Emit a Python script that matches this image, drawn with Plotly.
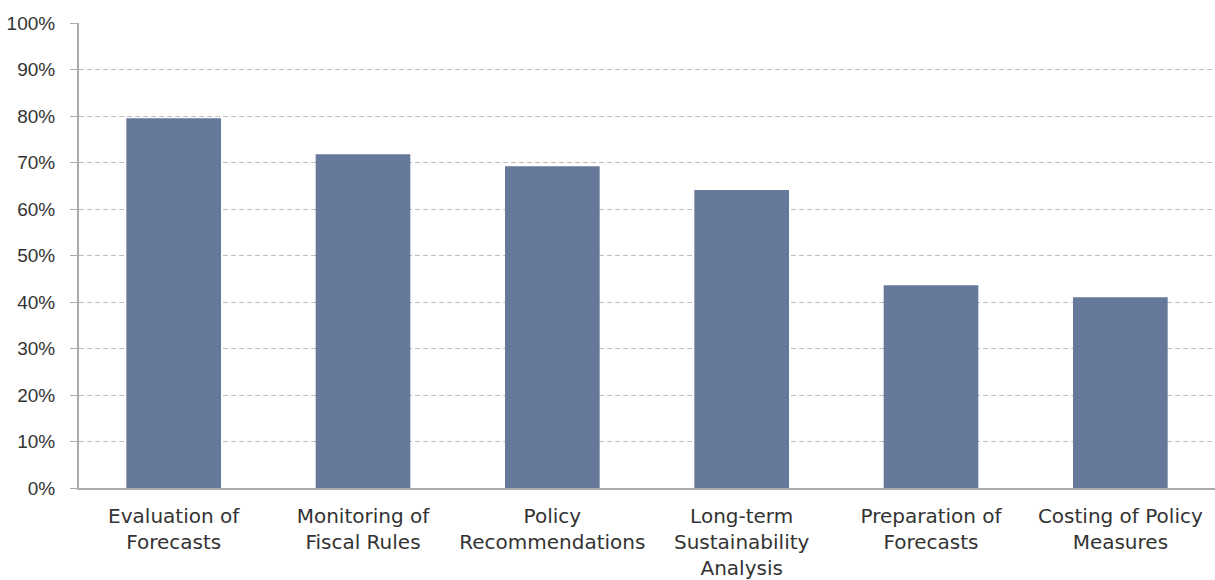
import plotly.graph_objects as go

categories = [
    "Evaluation of<br>Forecasts",
    "Monitoring of<br>Fiscal Rules",
    "Policy<br>Recommendations",
    "Long-term<br>Sustainability<br>Analysis",
    "Preparation of<br>Forecasts",
    "Costing of Policy<br>Measures",
]
values = [0.795, 0.718, 0.692, 0.641, 0.436, 0.410]
y_ticks = [i / 10 for i in range(11)]
y_tick_labels = [f"{i * 10}%" for i in range(11)]

fig = go.Figure(
    go.Bar(
        x=categories,
        y=values,
        marker=dict(color="#67799a", line=dict(width=0)),
        hoverinfo="x+y",
    )
)

fig.update_layout(
    width=1215,
    height=580,
    margin=dict(l=79, r=0, t=23, b=92),
    paper_bgcolor="white",
    plot_bgcolor="white",
    bargap=0.5,
    showlegend=False,
)

fig.update_xaxes(
    showline=True,
    linecolor="#acacac",
    linewidth=2,
    ticks="",
    showgrid=False,
    tickfont=dict(family="DejaVu Sans", size=20, color="#333333"),
    ticklabelstandoff=9,
)

fig.update_yaxes(
    range=[0, 1],
    tickvals=y_ticks,
    ticktext=y_tick_labels,
    showline=True,
    linecolor="#acacac",
    linewidth=2,
    ticks="outside",
    ticklen=7,
    tickcolor="#acacac",
    tickwidth=1,
    showgrid=True,
    gridcolor="#bdbdbd",
    gridwidth=1,
    griddash="5px,3px",
    zeroline=False,
    tickfont=dict(family="Liberation Sans", size=19, color="#333333"),
    ticklabelstandoff=11,
)

fig.write_html("out.html")
